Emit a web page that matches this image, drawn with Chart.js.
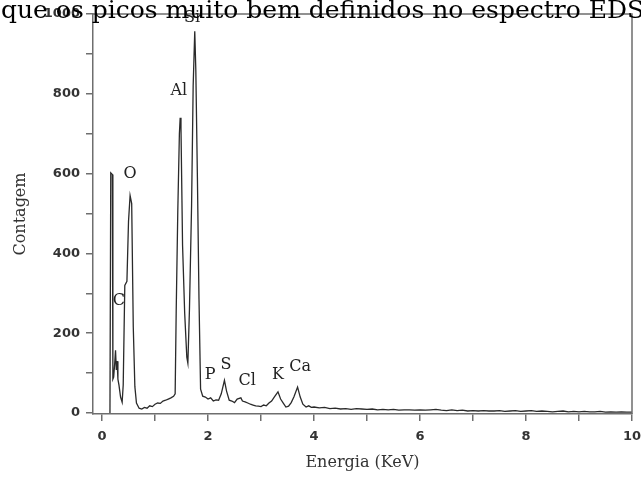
<!DOCTYPE html>
<html>
<head>
<meta charset="utf-8">
<script src="https://cdn.jsdelivr.net/npm/chart.js@4"></script>
<style>
  body { margin: 0; background: #fff; }
  #wrap { position: relative; width: 641px; height: 481px; overflow: hidden; }
  #caption {
    position: absolute; left: 1px; top: -3px;
    font: 25px "DejaVu Serif", serif; line-height: 25px;
    white-space: nowrap; color: #000;
  }
</style>
</head>
<body>
<div id="wrap">
  <canvas id="spectrum" width="641" height="481"></canvas>
  <div id="caption">que os picos muito bem definidos no espectro EDS</div>
</div>
<script>
// EDS spectrum (energy in keV, counts)
const energy = [
  0.15, 0.165, 0.195, 0.205, 0.22, 0.24, 0.255, 0.27, 0.285, 0.30, 0.32, 0.35, 0.38,
  0.40, 0.43, 0.47, 0.50, 0.53, 0.56, 0.59, 0.62, 0.65, 0.70, 0.75, 0.80, 0.85, 0.90,
  0.95, 1.00, 1.05, 1.10, 1.15, 1.20, 1.25, 1.30, 1.35, 1.38, 1.40, 1.43, 1.46, 1.475,
  1.49, 1.52, 1.56, 1.60, 1.62, 1.65, 1.69, 1.72, 1.75, 1.77, 1.80, 1.83, 1.86, 1.90,
  1.95, 2.00, 2.05, 2.10, 2.15, 2.20, 2.25, 2.31, 2.35, 2.40, 2.45, 2.50, 2.55, 2.62,
  2.65, 2.70, 2.75, 2.80, 2.85, 2.90, 2.95, 3.00, 3.05, 3.10, 3.15, 3.20, 3.25, 3.32,
  3.37, 3.42, 3.47, 3.52, 3.57, 3.62, 3.69, 3.74, 3.79, 3.85, 3.90, 3.95,
  4.0, 4.1, 4.2, 4.3, 4.4, 4.5, 4.6, 4.7, 4.8, 4.9, 5.0, 5.1, 5.2, 5.3, 5.4, 5.5, 5.6,
  5.7, 5.8, 5.9, 6.0, 6.1, 6.2, 6.3, 6.4, 6.5, 6.6, 6.7, 6.8, 6.9, 7.0, 7.1, 7.2, 7.3,
  7.4, 7.5, 7.6, 7.7, 7.8, 7.9, 8.0, 8.1, 8.2, 8.3, 8.4, 8.5, 8.6, 8.7, 8.8, 8.9, 9.0,
  9.1, 9.2, 9.3, 9.4, 9.5, 9.6, 9.7, 9.8, 9.9, 10.0
];
const counts = [
  0, 602, 598, 85, 90, 125, 157, 108, 130, 85, 70, 40, 27,
  70, 320, 330, 480, 545, 525, 215, 66, 25, 12, 10, 14, 12, 18,
  16, 22, 25, 24, 30, 32, 35, 38, 42, 48, 257, 507, 700, 740,
  715, 420, 250, 140, 125, 260, 520, 820, 957, 860, 590, 285, 60, 42,
  40, 35, 38, 30, 33, 32, 48, 82, 55, 32, 30, 26, 35, 38,
  30, 28, 25, 22, 20, 18, 17, 16, 20, 18, 25, 30, 40, 53,
  35, 25, 15, 17, 26, 40, 65, 40, 22, 15, 18, 14,
  15, 13, 14, 11, 12, 10, 11, 9, 11, 10, 9, 10, 8, 9, 8, 9, 7,
  8, 8, 7, 8, 7, 8, 9, 7, 6, 8, 6, 7, 5, 6, 5, 6, 5,
  5, 6, 4, 5, 6, 4, 5, 6, 4, 5, 4, 3, 4, 5, 3, 4, 3,
  4, 3, 3, 4, 2, 3, 2, 3, 2, 2
];

// Axis ticks
const xTicks = [0, 1, 2, 3, 4, 5, 6, 7, 8, 9, 10];
const yTicks = [0, 100, 200, 300, 400, 500, 600, 700, 800, 900, 1000];

// Element labels over the peaks
const peakNames = ['C', 'O', 'Al', 'Si', 'P', 'S', 'Cl', 'K', 'Ca'];
const peakLabelE = [0.32, 0.53, 1.45, 1.70, 2.04, 2.34, 2.74, 3.32, 3.74];
const peakLabelCount = [282, 600, 807, 990, 95, 120, 80, 95, 115];

const axisColor = '#6e6e6e';
const tickFont = { family: 'DejaVu Sans', size: 13, weight: 'bold' };
const serif = 'DejaVu Serif';

// Closes the box (top + right) and writes the element names
const framePlugin = {
  id: 'frame',
  afterDatasetsDraw(chart) {
    const { ctx, chartArea: a, scales } = chart;
    ctx.save();
    ctx.strokeStyle = axisColor;
    ctx.lineWidth = 1.5;
    ctx.beginPath();
    ctx.moveTo(a.left, a.top);
    ctx.lineTo(a.right, a.top);
    ctx.lineTo(a.right, a.bottom);
    ctx.stroke();

    ctx.fillStyle = '#222';
    ctx.font = '16px "' + serif + '"';
    ctx.textAlign = 'center';
    ctx.textBaseline = 'middle';
    peakNames.forEach((name, i) => {
      ctx.fillText(name, scales.x.getPixelForValue(peakLabelE[i]),
                   scales.y.getPixelForValue(peakLabelCount[i]));
    });
    ctx.restore();
  }
};

new Chart(document.getElementById('spectrum'), {
  type: 'line',
  data: {
    datasets: [{
      data: energy.map((e, i) => ({ x: e, y: counts[i] })),
      borderColor: '#2a2a2a',
      borderWidth: 1.3,
      pointRadius: 0,
      tension: 0
    }]
  },
  options: {
    responsive: false,
    animation: false,
    devicePixelRatio: 1,
    layout: { padding: { top: 14, right: 9, left: 0, bottom: 0 } },
    plugins: { legend: { display: false }, tooltip: { enabled: false } },
    scales: {
      x: {
        type: 'linear',
        min: -0.17,
        max: 10,
        afterBuildTicks: (s) => { s.ticks = xTicks.map(v => ({ value: v })); },
        afterFit: (s) => {
          s.height = 67;
          // let the "10" run off the edge like in the original
          s.paddingLeft = 0;
          s.paddingRight = 0;
        },
        ticks: {
          color: '#333',
          font: tickFont,
          padding: 8,
          maxRotation: 0,
          callback: (v) => (v % 2 === 0 ? v : '')
        },
        grid: { drawOnChartArea: false, color: axisColor, tickLength: 7, lineWidth: 1.5 },
        border: { color: axisColor, width: 1.5 },
        title: {
          display: true,
          text: 'Energia (KeV)',
          color: '#333',
          font: { family: serif, size: 16 },
          padding: { top: 0, bottom: 9 }
        }
      },
      y: {
        min: -2.5,
        max: 1000,
        afterBuildTicks: (s) => { s.ticks = yTicks.map(v => ({ value: v })); },
        afterFit: (s) => { s.width = 93; },
        ticks: {
          color: '#333',
          font: tickFont,
          padding: 6,
          callback: (v) => (v % 200 === 0 ? v : '')
        },
        grid: { drawOnChartArea: false, color: axisColor, tickLength: 7, lineWidth: 1.5 },
        border: { color: axisColor, width: 1.5 },
        title: {
          display: true,
          text: 'Contagem',
          color: '#333',
          font: { family: serif, size: 16 },
          padding: { top: 11, bottom: 0 }
        }
      }
    }
  },
  plugins: [framePlugin]
});
</script>
</body>
</html>
